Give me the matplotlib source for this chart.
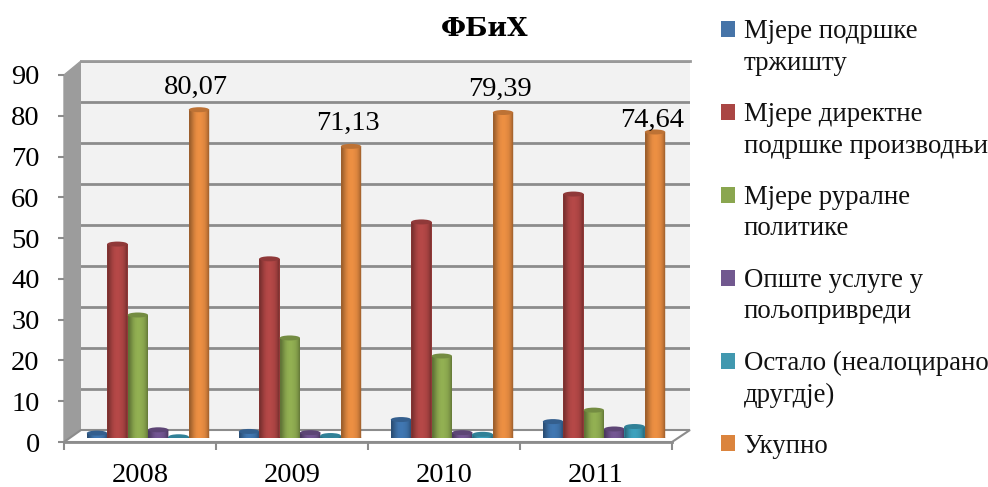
import numpy as np
import matplotlib
matplotlib.use('Agg')
import matplotlib.pyplot as plt
from matplotlib.patches import Polygon, Ellipse, PathPatch, Patch
from matplotlib.path import Path

W, H = 988, 487
years = ['2008', '2009', '2010', '2011']
series = ['Мјере подршке\nтржишту', 'Мјере директне\nподршке производњи',
          'Мјере руралне\nполитике', 'Опште услуге у\nпољопривреди',
          'Остало (неалоцирано\nдругдје)', 'Укупно']
market = [1.2, 1.6, 4.5, 4.0]
direct = [47.3, 43.7, 52.7, 59.5]
rural = [30.0, 24.4, 20.0, 6.8]
general = [2.0, 1.3, 1.3, 2.2]
other = [0.3, 0.6, 0.9, 2.8]
total = [80.07, 71.13, 79.39, 74.64]
total_labels = ['80,07', '71,13', '79,39', '74,64']
values = [market, direct, rural, general, other, total]
colors = ['#3f74ad', '#b04645', '#8eab50', '#71548f', '#3c9db8', '#e68b41']
legend_colors = ['#4674a8', '#aa4644', '#8aa64f', '#71588f', '#4198af', '#db843d']
yticks = np.arange(0, 100, 10)

plt.rcParams['font.family'] = ['Liberation Serif', 'DejaVu Serif']
fig = plt.figure(figsize=(W / 100, H / 100), dpi=100)


def box(x0, y0, x1, y1):
    # pixel box (y from the top) to figure fractions
    return [x0 / W, 1 - y1 / H, (x1 - x0) / W, (y1 - y0) / H]


def px(x, y):
    return (x / W, 1 - y / H)


# back wall
back = fig.add_axes(box(81, 61, 690, 430), zorder=2, facecolor='#f2f2f2')
back.set_xlim(0, 1)
back.set_ylim(0, 90)
back.set_yticks(yticks)
back.set_xticks([])
back.tick_params(left=False, labelleft=False)
back.grid(axis='y', color='#8c8c8c', lw=2)
for s in ['left', 'right', 'bottom']:
    back.spines[s].set_visible(False)
back.spines['top'].set_color('#9a9a9a')
back.spines['top'].set_linewidth(2)

# side wall and floor
fig.add_artist(Polygon([px(64, 442), px(81, 430), px(81, 61), px(64, 75)], closed=True,
                       transform=fig.transFigure, fc='#9c9c9c', ec='#9c9c9c', lw=1, zorder=1))
fig.add_artist(Polygon([px(64, 442), px(672, 442), px(690, 430), px(81, 430)], closed=True,
                       transform=fig.transFigure, fc='white', ec='#8c8c8c', lw=1.5, zorder=2.5))

# front axis with the ticks
front = fig.add_axes(box(64, 75, 672, 442), zorder=3, facecolor='none')
front.set_xlim(-0.5, 3.5)
front.set_ylim(0, 90)
front.set_yticks(yticks)
front.set_xticks(np.arange(-0.5, 4, 1))
front.set_xticklabels([])
front.set_xticks(np.arange(4), minor=True)
front.set_xticklabels(years, minor=True)
front.tick_params(axis='y', length=4.5, width=1.5, color='#8c8c8c', labelsize=20.5, pad=13)
front.tick_params(axis='x', which='major', length=5.5, width=1.5, color='#8c8c8c')
front.tick_params(axis='x', which='minor', length=0, labelsize=20.5, pad=15)
for s in ['top', 'right', 'left']:
    front.spines[s].set_visible(False)
front.spines['bottom'].set_color('#8c8c8c')
front.spines['bottom'].set_linewidth(2)

# bars, they stand a bit behind the front edge
ax = fig.add_axes(box(72, 69, 680, 438), zorder=4, facecolor='none')
ax.axis('off')
x = np.arange(len(years))
bw = 20.4 / 152
cap_h = 5 / 4.1
shade = np.array([0.68, 0.8, 0.92, 1.0, 1.03, 1.03, 1.0, 0.96, 0.86, 0.7])
z = 5
for i, vals in enumerate(values):
    base = np.array(matplotlib.colors.to_rgb(colors[i]))
    rects = ax.bar(x + (i - 2.5) * bw, vals, bw, color=colors[i], zorder=z)
    for rect in rects:
        z += 1
        x0 = rect.get_x()
        w = rect.get_width()
        h = rect.get_height()
        cx = x0 + w / 2
        rect.set_zorder(z)
        body = Path.make_compound_path(
            Path([(x0, 0), (x0 + w, 0), (x0 + w, h), (x0, h), (x0, 0)], closed=True),
            Path.unit_circle().transformed(
                matplotlib.transforms.Affine2D().scale(w / 2, cap_h / 2).translate(cx, 0)))
        grad = np.clip(base[None, None, :] * shade[None, :, None], 0, 1)
        im = ax.imshow(grad, extent=(x0, x0 + w, -cap_h, h), aspect='auto',
                       interpolation='bilinear', zorder=z + 0.1)
        im.set_clip_path(PathPatch(body, transform=ax.transData))
        ax.add_patch(Ellipse((cx, h), w, cap_h, fc=base * 0.82, ec='none', zorder=z + 0.2))

label_gap = [5.5, 5.6, 5.6, 2.8]
for xi, v, lab, gap in zip(x, total, total_labels, label_gap):
    ax.text(xi + 0.317, v + gap, lab, ha='center', va='center',
            fontsize=20.5, zorder=100)
ax.set_xlim(-0.5, 3.5)
ax.set_ylim(0, 90)

fig.text(485 / W, 1 - 28 / H, 'ФБиХ', ha='center', va='center', fontsize=19,
         fontweight='bold', family=['DejaVu Serif'])

handles = [Patch(fc=c, ec='none') for c in legend_colors]
leg = fig.legend(handles, series, loc='upper left', bbox_to_anchor=(721 / W, 1 - 19 / H),
                 frameon=False, fontsize=19.3, handlelength=0.54, handleheight=0.54,
                 handletextpad=0.3, labelspacing=0.98, borderpad=0, borderaxespad=0)
for t in leg.get_texts():
    t.set_linespacing(1.35)
    t.set_color('#111111')
for hd, lab in zip(leg.legend_handles, series):
    if '\n' in lab:
        hd.set_y(hd.get_y() + 13)

fig.savefig('out.png', dpi=100)
